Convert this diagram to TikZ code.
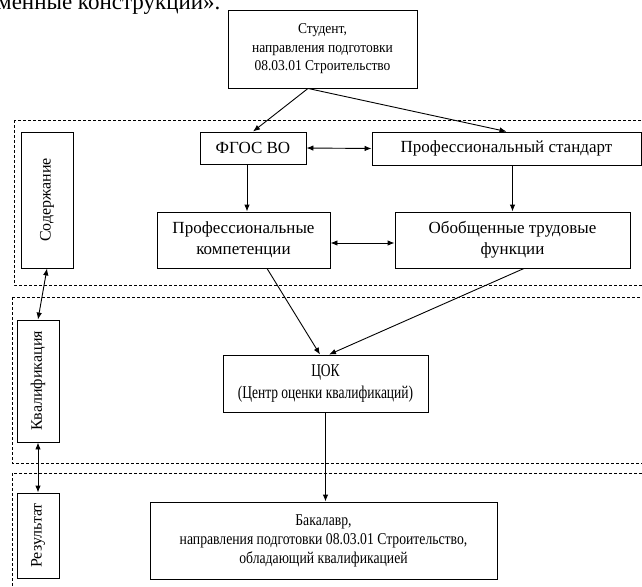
\documentclass[tikz,border=0pt]{standalone}
\usepackage{fontspec}
\setmainfont{Liberation Serif}
\newfontfamily\condA[FakeStretch=0.9]{Liberation Serif}
\newfontfamily\condB[FakeStretch=0.83]{Liberation Serif}
\newfontfamily\condC[FakeStretch=0.75]{Liberation Serif}
\usetikzlibrary{arrows.meta,calc}
\begin{document}
\begin{tikzpicture}[x=1pt,y=-1pt,
  box/.style={draw, line width=0.9pt, align=center, inner sep=0pt},
  bigbox/.style={box, font=\fontsize{17}{21}\selectfont},
  side/.style={box, rotate=90, font=\fontsize{16}{18}\selectfont},
  zone/.style={draw, line width=0.6pt, dash pattern=on 3pt off 2pt},
  arr/.style={line width=0.9pt, -{Latex[length=7pt,width=5.5pt]}},
  darr/.style={line width=0.9pt, {Latex[length=7pt,width=5.5pt]}-{Latex[length=7pt,width=5.5pt]}}
]
\useasboundingbox (0,0) rectangle (642,586);
\clip (0,0) rectangle (642,586);
\fill[white] (0,0) rectangle (642,586);

% cut-off text line at top
\node[anchor=base west, inner sep=0pt, font=\fontsize{23}{25}\selectfont] (toptext) at (-3,9.5) {менные конструкции».};

% dashed zones
\draw[zone] (14,120) rectangle (660,285);
\draw[zone] (12,297) rectangle (660,463);
\draw[zone] (12,473) rectangle (660,600);

% nodes
\node[box, font=\condA\fontsize{15}{18.5}\selectfont, minimum width=189pt, minimum height=78pt] (stud) at (322.5,49) {Студент,\\ направления подготовки\\ 08.03.01 Строительство};
\node[bigbox, minimum width=106pt, minimum height=32pt] (fgos) at (253,148) {ФГОС ВО};
\node[bigbox, minimum width=269pt, minimum height=33pt] (pstd) at (506.5,148.5) {Профессиональный стандарт};
\node[bigbox, minimum width=173pt, minimum height=56pt] (pk) at (243.5,240) {Профессиональные\\ компетенции};
\node[bigbox, minimum width=235pt, minimum height=56pt] (otf) at (512.5,240) {Обобщенные трудовые\\ функции};
\node[box, font=\condC\fontsize{18}{22}\selectfont, minimum width=205pt, minimum height=57pt] (cok) at (325.5,383.5) {ЦОК\\ (Центр оценки квалификаций)};
\node[box, font=\condB\fontsize{16.5}{19}\selectfont, minimum width=347pt, minimum height=77pt] (bak) at (323.5,540.5) {Бакалавр,\\ направления подготовки 08.03.01 Строительство,\\ обладающий квалификацией};

\node[side, minimum width=136pt, minimum height=52pt] (sod) at (47,200) {Содержание};
\node[side, minimum width=122pt, minimum height=42pt] (kval) at (38,381) {Квалификация};
\node[side, minimum width=85pt, minimum height=42pt] (res) at (38,535.5) {Результат};

% connectors
\coordinate (sj) at ($(stud.south)+(-14.5,0)$);
\draw[arr] (sj) -- (fgos.north);
\draw[arr] (sj) -- (pstd.north);
\draw[darr] (fgos.east) -- (pstd.west);
\draw[arr] ([xshift=-6pt]fgos.south) -- ([xshift=-6pt]fgos.south |- pk.north);
\draw[arr] (otf.north |- pstd.south) -- (otf.north);
\draw[darr] ([yshift=-3pt]pk.east) -- ([yshift=-3pt]otf.west);
\draw[arr] ([xshift=23.5pt]pk.south) -- ([xshift=-5.5pt]cok.north);
\draw[arr] ([xshift=11.5pt]otf.south) -- ([xshift=3.5pt]cok.north);
\draw[arr] (cok.south) -- (cok.south |- bak.north);
\draw[darr] (sod.west) -- (kval.east);
\draw[darr] (kval.west) -- (res.east);
\end{tikzpicture}
\end{document}
